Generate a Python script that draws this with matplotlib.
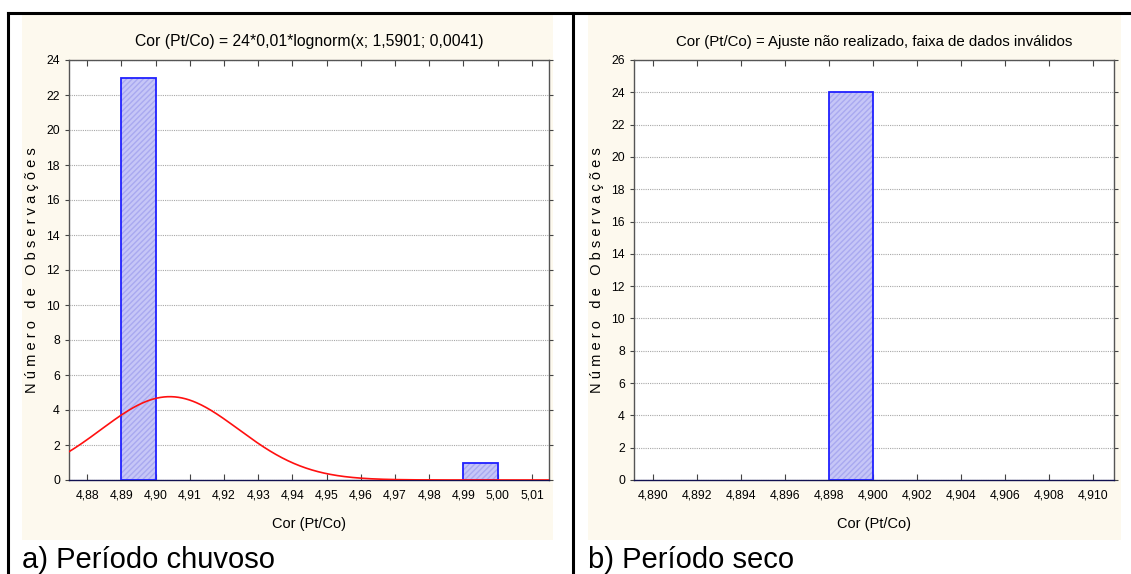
import numpy as np
import matplotlib as mpl
mpl.use('Agg')
import matplotlib.pyplot as plt
from matplotlib.lines import Line2D
from matplotlib.patches import Rectangle

plt.rcParams['font.family'] = ['Liberation Sans', 'DejaVu Sans']

# chuvoso: histogram bins and counts
bins_a = [4.89, 4.99]
counts_a = [23, 1]
width_a = 0.01
ticks_a = [4.88, 4.89, 4.90, 4.91, 4.92, 4.93, 4.94, 4.95, 4.96, 4.97, 4.98, 4.99, 5.00, 5.01]
n_a, mu_a, sigma_a = 24, 1.5901, 0.0041
title_a = "Cor (Pt/Co) = 24*0,01*lognorm(x; 1,5901; 0,0041)"

# seco: one bin holds every observation
bins_b = [4.898]
counts_b = [24]
width_b = 0.002
ticks_b = [4.890, 4.892, 4.894, 4.896, 4.898, 4.900, 4.902, 4.904, 4.906, 4.908, 4.910]
title_b = "Cor (Pt/Co) = Ajuste não realizado, faixa de dados inválidos"

W, H = 1131, 574
fig = plt.figure(figsize=(W / 100, H / 100), dpi=100)
fig.patch.set_facecolor('white')

def box(x0, y0, x1, y1):
    return [x0 / W, 1 - y1 / H, (x1 - x0) / W, (y1 - y0) / H]

cream = '#FDF9EE'
for x0, x1 in [(22, 553), (588, 1121)]:
    fig.patches.append(Rectangle((x0 / W, 1 - 540 / H), (x1 - x0) / W, (540 - 15) / H,
                                 transform=fig.transFigure, facecolor=cream, edgecolor='none', zorder=-5))

# table frame
for xs, ys in [([8 / W, 8 / W], [0, 1 - 13 / H]), ([573 / W, 573 / W], [0, 1 - 13 / H]),
               ([8 / W, 1], [1 - 13 / H, 1 - 13 / H])]:
    fig.add_artist(Line2D(xs, ys, color='black', lw=2.2, transform=fig.transFigure))

def draw_hist(ax, lefts, counts, width, ticks, fmt, xlim, ylim, ystep, title, title_size):
    ax.set_facecolor('white')
    ax.bar(lefts, counts, width=width, align='edge', color='#C6C6F7', edgecolor='#A9A9F0',
           linewidth=0, hatch='//////', zorder=2)
    ax.bar(lefts, counts, width=width, align='edge', fill=False, edgecolor='#2020FF',
           linewidth=1.3, zorder=3)
    ax.set_xlim(*xlim)
    ax.set_ylim(*ylim)
    ax.set_xticks(ticks)
    ax.set_xticklabels([fmt.format(t).replace('.', ',') for t in ticks])
    ax.set_yticks(np.arange(0, ylim[1] + 1, ystep))
    ax.yaxis.grid(True, linestyle=(0, (1, 1)), color='#A8A8A8', linewidth=0.8, zorder=1)
    ax.set_axisbelow(True)
    ax.tick_params(axis='x', direction='in', top=True, length=4, labelsize=8.8, pad=7, color='#444444')
    ax.tick_params(axis='y', direction='out', right=True, length=3, labelsize=8.8, color='#444444')
    for s in ax.spines.values():
        s.set_color('#555555')
        s.set_linewidth(1.0)
    ax.spines['bottom'].set_color('#101050')
    ax.set_title(title, fontsize=title_size, pad=10)
    ax.set_xlabel('Cor (Pt/Co)', fontsize=10.5, labelpad=11)
    ax.set_ylabel('N ú m e r o   d e   O b s e r v a ç õ e s', fontsize=10.5, labelpad=5)

ax1 = fig.add_axes(box(69, 60, 549, 480))
draw_hist(ax1, bins_a, counts_a, width_a, ticks_a, '{:.2f}', (4.8747, 5.015), (0, 24), 2, title_a, 11.3)
x = np.linspace(4.8747, 5.015, 400)
pdf = np.exp(-(np.log(x) - mu_a) ** 2 / (2 * sigma_a ** 2)) / (x * sigma_a * np.sqrt(2 * np.pi))
ax1.plot(x, n_a * width_a * pdf, color='#FF1010', lw=1.2, zorder=4, clip_on=True)

ax2 = fig.add_axes(box(634, 60, 1114, 480))
draw_hist(ax2, bins_b, counts_b, width_b, ticks_b, '{:.3f}', (4.88914, 4.91095), (0, 26), 2, title_b, 10.8)

fig.text(22 / W, 1 - 560 / H, 'a) Período chuvoso', fontsize=21, va='center', ha='left')
fig.text(588 / W, 1 - 560 / H, 'b) Período seco', fontsize=21, va='center', ha='left')

fig.savefig('out.png', dpi=100)
